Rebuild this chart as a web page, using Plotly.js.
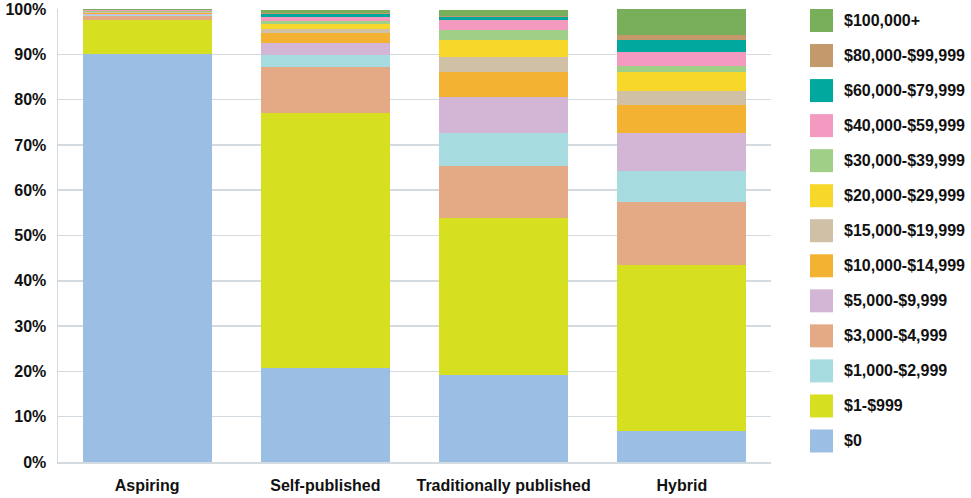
<!DOCTYPE html>
<html>
<head>
<meta charset="utf-8">
<script src="https://cdn.plot.ly/plotly-3.0.1.min.js"></script>
<style>
  html, body { margin: 0; padding: 0; background: #ffffff; }
  #chart { width: 971px; height: 498px; }
</style>
</head>
<body>
<div id="chart"></div>
<script>
// Author groups on the x axis
const categories = ['Aspiring', 'Self-published', 'Traditionally published', 'Hybrid'];

// Share of authors (%) in each income band, per group
const inc0        = [90.0, 20.8, 19.1, 6.9];
const inc1        = [7.5, 56.2, 34.8, 36.6];
const inc1000     = [0.3, 2.7, 7.3, 6.8];
const inc3000     = [0.9, 10.1, 11.5, 13.9];
const inc5000     = [0.3, 2.8, 7.9, 8.4];
const inc10000    = [0.2, 2.2, 5.5, 6.1];
const inc15000    = [0.1, 0.8, 3.4, 3.1];
const inc20000    = [0.1, 1.2, 3.7, 4.3];
const inc30000    = [0.1, 0.5, 2.1, 1.3];
const inc40000    = [0.2, 0.9, 2.3, 3.2];
const inc60000    = [0.1, 0.7, 0.7, 2.5];
const inc80000    = [0.05, 0.2, 0.2, 1.1];
const inc100000   = [0.1, 0.7, 1.2, 5.7];

// Y axis tick values and labels
const yTickVals = [0, 10, 20, 30, 40, 50, 60, 70, 80, 90, 100];
const yTickText = ['0%', '10%', '20%', '30%', '40%', '50%', '60%', '70%', '80%', '90%', '100%'];

// Series, bottom of the stack first
const series = [
  { name: '$0',               values: inc0,      color: '#9ABEE4' },
  { name: '$1-$999',          values: inc1,      color: '#D7DF21' },
  { name: '$3,000-$4,999',    values: inc3000,   color: '#E4AA86' },
  { name: '$1,000-$2,999',    values: inc1000,   color: '#A6DCDF' },
  { name: '$5,000-$9,999',    values: inc5000,   color: '#D3B5D6' },
  { name: '$10,000-$14,999',  values: inc10000,  color: '#F3B232' },
  { name: '$15,000-$19,999',  values: inc15000,  color: '#CFC0A6' },
  { name: '$20,000-$29,999',  values: inc20000,  color: '#F7D82A' },
  { name: '$30,000-$39,999',  values: inc30000,  color: '#A0D088' },
  { name: '$40,000-$59,999',  values: inc40000,  color: '#F49AC1' },
  { name: '$60,000-$79,999',  values: inc60000,  color: '#00A89D' },
  { name: '$80,000-$99,999',  values: inc80000,  color: '#C4996B' },
  { name: '$100,000+',        values: inc100000, color: '#79AF5A' }
];

// Legend order, top to bottom
const legendOrder = [
  '$100,000+', '$80,000-$99,999', '$60,000-$79,999', '$40,000-$59,999',
  '$30,000-$39,999', '$20,000-$29,999', '$15,000-$19,999', '$10,000-$14,999',
  '$5,000-$9,999', '$3,000-$4,999', '$1,000-$2,999', '$1-$999', '$0'
];

const FONT = 'Liberation Sans, Arial, sans-serif';
const GRID = '#d3dbe1';

const traces = series.map(s => ({
  type: 'bar',
  name: s.name,
  x: categories,
  y: s.values,
  marker: { color: s.color, line: { width: 0 } },
  hoverinfo: 'name+y',
  showlegend: false
}));

// Plot box in pixels, used to place the hand-built legend
const M = { l: 58, r: 200, t: 9, b: 36 };
const W = 971, H = 498;
const plotW = W - M.l - M.r, plotH = H - M.t - M.b;
const px = v => (v - M.l) / plotW;
const py = v => (H - M.b - v) / plotH;

const shapes = [];
const annotations = [];
const swatchLeft = 810, swatchSize = 23, firstCenter = 20.5, step = 35.04, textLeft = 842;
legendOrder.forEach((name, i) => {
  const s = series.find(d => d.name === name);
  const cy = firstCenter + i * step;
  shapes.push({
    type: 'rect', xref: 'paper', yref: 'paper',
    x0: px(swatchLeft), x1: px(swatchLeft + swatchSize),
    y0: py(cy + swatchSize / 2), y1: py(cy - swatchSize / 2),
    fillcolor: s.color, line: { width: 0 }
  });
  annotations.push({
    xref: 'paper', yref: 'paper', x: px(textLeft), y: py(cy),
    xanchor: 'left', yanchor: 'middle', showarrow: false,
    text: name,
    font: { family: FONT, size: 16, color: '#111111', weight: 'bold' }
  });
});

const layout = {
  width: W, height: H,
  margin: M,
  paper_bgcolor: '#ffffff',
  plot_bgcolor: '#ffffff',
  barmode: 'stack',
  bargap: 0.276,
  xaxis: {
    type: 'category',
    showgrid: false,
    showline: true, linecolor: GRID, linewidth: 2,
    ticks: '',
    ticklabelstandoff: 8,
    tickfont: { family: FONT, size: 16, color: '#111111', weight: 'bold' },
    fixedrange: true
  },
  yaxis: {
    range: [0, 100],
    tickvals: yTickVals,
    ticktext: yTickText,
    showgrid: true, gridcolor: GRID, gridwidth: 1.5,
    zeroline: false,
    showline: true, linecolor: GRID, linewidth: 1.5,
    ticks: '',
    ticklabelstandoff: 7,
    tickfont: { family: FONT, size: 16, color: '#111111', weight: 'bold' },
    fixedrange: true
  },
  shapes: shapes,
  annotations: annotations,
  showlegend: false
};

Plotly.newPlot('chart', traces, layout, { displayModeBar: false, staticPlot: true });
</script>
</body>
</html>
